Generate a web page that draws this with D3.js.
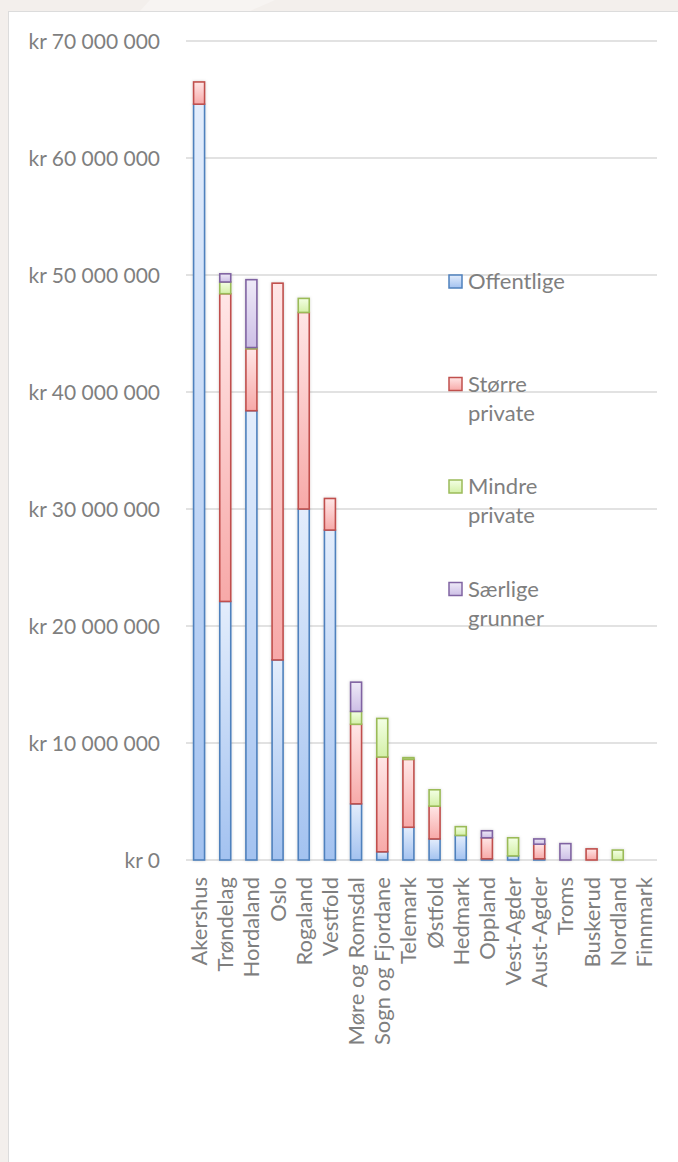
<!DOCTYPE html>
<html><head><meta charset="utf-8">
<script src="https://cdn.jsdelivr.net/npm/d3@7"></script>
<style>
html,body{margin:0;padding:0;background:#f3efec;}
svg{display:block;}
text{font-family:Lato,"Open Sans",sans-serif;fill:#7f7f7f;}
</style></head>
<body>
<svg id="c" width="678" height="1162"></svg>
<script>
const categories = ["Akershus","Trøndelag","Hordaland","Oslo","Rogaland","Vestfold","Møre og Romsdal","Sogn og Fjordane","Telemark","Østfold","Hedmark","Oppland","Vest-Agder","Aust-Agder","Troms","Buskerud","Nordland","Finnmark"];
const seriesNames = ["Offentlige","Større private","Mindre private","Særlige grunner"];
const offentlige = [64.6, 22.1, 38.4, 17.1, 30.0, 28.2, 4.8, 0.7, 2.8, 1.8, 2.1, 0.1, 0.35, 0.1, 0, 0, 0, 0];
const storre     = [1.9, 26.3, 5.3, 32.2, 16.8, 2.7, 6.8, 8.1, 5.8, 2.8, 0, 1.8, 0, 1.25, 0, 0.95, 0, 0];
const mindre     = [0, 1.0, 0.1, 0, 1.2, 0, 1.1, 3.3, 0.15, 1.4, 0.75, 0, 1.55, 0, 0, 0, 0.85, 0];
const saerlige   = [0, 0.7, 5.8, 0, 0, 0, 2.5, 0, 0, 0, 0, 0.6, 0, 0.45, 1.4, 0, 0, 0];
const yTicks = [0, 10000000, 20000000, 30000000, 40000000, 50000000, 60000000, 70000000];

const colors = [
  {stroke:"#4f81bd", top:"#e3edfc", bot:"#a3c2f0"},
  {stroke:"#c0504d", top:"#ffe6e6", bot:"#f7a9a8"},
  {stroke:"#9bbb59", top:"#f3ffe4", bot:"#d4f0a8"},
  {stroke:"#8064a2", top:"#eeeaf7", bot:"#cdbfe6"}
];

const rows = categories.map((c,i)=>({cat:c, s0:offentlige[i]*1e6, s1:storre[i]*1e6, s2:mindre[i]*1e6, s3:saerlige[i]*1e6}));
const stack = d3.stack().keys(["s0","s1","s2","s3"])(rows);

const svg = d3.select("#c");
const defs = svg.append("defs");
colors.forEach((c,i)=>{
  const g = defs.append("linearGradient").attr("id","g"+i).attr("x1",0).attr("y1",0).attr("x2",0).attr("y2",1);
  g.append("stop").attr("offset","0%").attr("stop-color",c.top);
  g.append("stop").attr("offset","100%").attr("stop-color",c.bot);
});
const f = defs.append("filter").attr("id","sh").attr("x","-50%").attr("y","-10%").attr("width","200%").attr("height","120%");
f.append("feDropShadow").attr("dx",0).attr("dy",0).attr("stdDeviation",1.5).attr("flood-color","#000").attr("flood-opacity",0.18);

// background swoosh
svg.append("path").attr("d","M150,0 L275,0 L250,11 L140,11 Z").attr("fill","#f7f4f2");
// panel
svg.append("rect").attr("x",8.5).attr("y",11.5).attr("width",700).attr("height",1200).attr("fill","#fff").attr("stroke","#dcdcdc").attr("stroke-width",1);

const y = d3.scaleLinear().domain([0,70000000]).range([860,41]);
const x = d3.scaleBand().domain(categories).range([186,657]).paddingInner(0.58).paddingOuter(0.29);

// grid
svg.append("g").selectAll("line").data(yTicks).join("line")
  .attr("x1",186).attr("x2",657).attr("y1",d=>y(d)).attr("y2",d=>y(d))
  .attr("stroke","#d9d9d9").attr("stroke-width",1.5);

const fmt = d => "kr " + d3.format(",")(d).replace(/,/g," ");
const yAxis = d3.axisLeft(y).tickValues(yTicks).tickFormat(fmt).tickSize(0).tickPadding(0);
const ya = svg.append("g").attr("transform","translate(160,0)").call(yAxis);
ya.select(".domain").remove();
ya.selectAll("text").attr("font-size","21px").attr("font-family","Lato,sans-serif").attr("fill","#7f7f7f").attr("dy","0.34em");

// bars
const layers = svg.append("g").attr("filter","url(#sh)");
stack.forEach((layer,i)=>{
  layers.append("g").selectAll("rect").data(layer.filter(d=>d[1]-d[0]>0)).join("rect")
    .attr("x",d=>x(d.data.cat))
    .attr("width",x.bandwidth())
    .attr("y",d=>y(d[1]))
    .attr("height",d=>y(d[0])-y(d[1]))
    .attr("fill","url(#g"+i+")")
    .attr("stroke",colors[i].stroke)
    .attr("stroke-width",1.6);
});

// x axis labels
const xAxis = d3.axisBottom(x).tickSize(0).tickPadding(0);
const xa = svg.append("g").attr("transform","translate(0,877)").call(xAxis);
xa.select(".domain").remove();
xa.selectAll("text").attr("font-size","22px").attr("font-family","Lato,sans-serif").attr("fill","#7f7f7f")
  .attr("transform","rotate(-90)").attr("text-anchor","end").attr("x",0).attr("y",0).attr("dy","0.36em");

// legend
const legendLines = [["Offentlige"],["Større","private"],["Mindre","private"],["Særlige","grunner"]];
const lg = svg.append("g");
seriesNames.forEach((n,i)=>{
  const cy = 281.5 + i*102.5;
  lg.append("rect").attr("x",449).attr("y",cy-6.5).attr("width",13).attr("height",13)
    .attr("fill","url(#g"+i+")").attr("stroke",colors[i].stroke).attr("stroke-width",1.5);
  const t = lg.append("text").attr("x",468).attr("y",cy).attr("font-size","22px");
  legendLines[i].forEach((l,j)=>{
    t.append("tspan").attr("x",468).attr("dy", j===0 ? "0.36em" : "29px").text(l);
  });
});
</script>
</body></html>
